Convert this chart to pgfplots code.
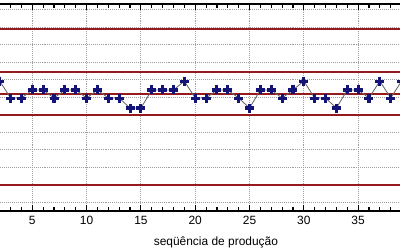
\documentclass[border=0pt]{standalone}
\usepackage{fontspec}
\setmainfont{Liberation Sans}
\usepackage{pgfplots}
\pgfplotsset{compat=1.18}
\definecolor{limred}{RGB}{150,25,30}
\definecolor{ptblue}{RGB}{20,20,120}
\begin{document}
\begin{tikzpicture}
\begin{axis}[
  at={(-0.1425cm,0.975cm)}, anchor=south west,
  scale only axis, width=10.3175cm, height=5.175cm,
  xmin=1.5, xmax=39.5, ymin=-0.51, ymax=11.31,
  xtick={5,10,...,35}, minor xtick={2,...,39},
  ytick={0,...,11}, yticklabels={},
  xmajorgrids, ymajorgrids,
  major grid style={densely dotted, gray!75, line width=0.6pt},
  tick align=inside,
  major tick length=4pt, minor tick length=2.5pt,
  tick style={black, line width=0.8pt},
  axis line style={black, line width=1.3pt},
  ticklabel style={font=\fontsize{8.5}{9}\selectfont},
  /pgf/number format/assume math mode=true,
  xlabel={seqüência de produção},
  xlabel style={at={(axis description cs:0.537,-0.15)}, anchor=center, font=\fontsize{8.5}{9}\selectfont},
]
\addplot[limred, line width=1.4pt] coordinates {(1.5,9.89) (39.5,9.89)};
\addplot[limred, line width=1.4pt] coordinates {(1.5,7.43) (39.5,7.43)};
\addplot[limred, line width=1.4pt] coordinates {(1.5,6.17) (39.5,6.17)};
\addplot[limred, line width=1.4pt] coordinates {(1.5,4.97) (39.5,4.97)};
\addplot[limred, line width=1.4pt] coordinates {(1.5,0.97) (39.5,0.97)};
\addplot[gray!80!black, line width=0.6pt, mark=+, mark size=3.2pt,
  mark options={ptblue, line width=2.2pt}] coordinates {
(2,6.91) (3,5.94) (4,5.94) (5,6.40) (6,6.40) (7,5.94) (8,6.40) (9,6.40)
(10,5.94) (11,6.40) (12,5.94) (13,5.94) (14,5.37) (15,5.37) (16,6.40)
(17,6.40) (18,6.40) (19,6.91) (20,5.94) (21,5.94) (22,6.40) (23,6.40)
(24,5.94) (25,5.37) (26,6.40) (27,6.40) (28,5.94) (29,6.40) (30,6.91)
(31,5.94) (32,5.94) (33,5.37) (34,6.40) (35,6.40) (36,5.94) (37,6.91)
(38,5.94) (39,6.91)};
\end{axis}
\node[anchor=east, font=\fontsize{9}{10}\selectfont] at (0.13cm,5.72cm) {LSE};
\node[anchor=east, font=\fontsize{9}{10}\selectfont] at (0.13cm,4.65cm) {LSC};
\node[anchor=east, font=\fontsize{9}{10}\selectfont] at (0.08cm,3.2cm) {LIC};
\pgfresetboundingbox
\path[use as bounding box] (0,0) rectangle (10cm,6.25cm);
\end{tikzpicture}
\end{document}
